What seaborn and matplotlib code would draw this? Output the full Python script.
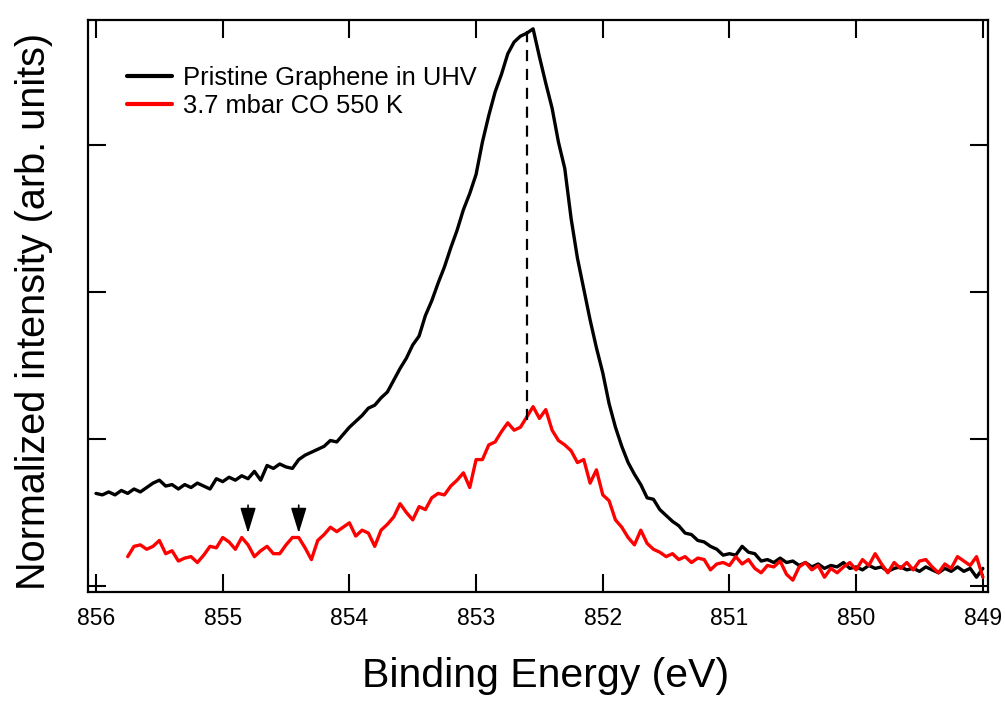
import numpy as np
import pandas as pd
import matplotlib
matplotlib.use("Agg")
import matplotlib.pyplot as plt
import seaborn as sns

# ---- data ----
black_start, black_stop = 856.00, 849.00   # binding-energy grid, 0.05 eV step
black_y = [
    0.63, 0.62, 0.64, 0.62, 0.65, 0.63, 0.66, 0.64, 0.67, 0.70,
    0.72, 0.68, 0.69, 0.66, 0.69, 0.67, 0.70, 0.68, 0.66, 0.73,
    0.71, 0.74, 0.72, 0.75, 0.73, 0.78, 0.72, 0.82, 0.80, 0.83,
    0.81, 0.80, 0.86, 0.89, 0.91, 0.93, 0.95, 0.99, 0.98, 1.03,
    1.08, 1.12, 1.16, 1.21, 1.23, 1.28, 1.32, 1.40, 1.48, 1.55,
    1.64, 1.70, 1.84, 1.94, 2.06, 2.17, 2.30, 2.42, 2.56, 2.67,
    2.80, 3.02, 3.20, 3.36, 3.48, 3.62, 3.70, 3.74, 3.76, 3.79,
    3.60, 3.42, 3.25, 3.02, 2.84, 2.50, 2.23, 2.02, 1.81, 1.62,
    1.45, 1.24, 1.08, 0.95, 0.84, 0.76, 0.69, 0.60, 0.59, 0.52,
    0.48, 0.44, 0.41, 0.36, 0.35, 0.31, 0.30, 0.27, 0.25, 0.21,
    0.22, 0.21, 0.27, 0.23, 0.22, 0.17, 0.18, 0.16, 0.19, 0.16,
    0.17, 0.14, 0.16, 0.13, 0.15, 0.12, 0.14, 0.13, 0.16, 0.12,
    0.13, 0.11, 0.14, 0.12, 0.13, 0.10, 0.12, 0.13, 0.11, 0.12,
    0.10, 0.13, 0.11, 0.09, 0.12, 0.10, 0.13, 0.10, 0.12, 0.06,
    0.12,
]
red_start, red_stop = 855.75, 849.00
red_y = [
    0.20, 0.27, 0.28, 0.25, 0.27, 0.31, 0.22, 0.24, 0.17, 0.19,
    0.20, 0.16, 0.21, 0.27, 0.26, 0.33, 0.30, 0.25, 0.33, 0.28,
    0.20, 0.24, 0.27, 0.22, 0.22, 0.28, 0.33, 0.33, 0.26, 0.18,
    0.31, 0.35, 0.40, 0.37, 0.40, 0.43, 0.34, 0.38, 0.36, 0.27,
    0.38, 0.42, 0.47, 0.56, 0.50, 0.45, 0.54, 0.52, 0.60, 0.63,
    0.62, 0.68, 0.72, 0.77, 0.67, 0.86, 0.86, 0.96, 0.98, 1.05,
    1.11, 1.06, 1.08, 1.15, 1.22, 1.14, 1.20, 1.06, 0.99, 0.96,
    0.92, 0.84, 0.86, 0.70, 0.79, 0.62, 0.58, 0.45, 0.40, 0.33,
    0.28, 0.38, 0.29, 0.25, 0.23, 0.20, 0.22, 0.18, 0.20, 0.16,
    0.19, 0.18, 0.11, 0.15, 0.16, 0.14, 0.20, 0.15, 0.18, 0.12,
    0.09, 0.14, 0.13, 0.17, 0.08, 0.04, 0.13, 0.16, 0.11, 0.14,
    0.06, 0.12, 0.09, 0.13, 0.16, 0.11, 0.18, 0.14, 0.22, 0.15,
    0.09, 0.16, 0.12, 0.16, 0.11, 0.17, 0.18, 0.13, 0.09, 0.15,
    0.12, 0.20, 0.17, 0.14, 0.20, 0.06,
]
series_names = ["Pristine Graphene in UHV", "3.7 mbar CO 550 K"]
series_colors = ["#000000", "#ff0000"]
x_ticks = [856, 855, 854, 853, 852, 851, 850, 849]
y_ticks = [0, 1, 2, 3]
peak_energy = 852.6
peak_top, peak_bottom = 3.79, 1.13
arrow_energies = [854.8, 854.4]
arrow_tip, arrow_tail = 0.36, 0.55

black_x = np.linspace(black_start, black_stop, len(black_y))
red_x = np.linspace(red_start, red_stop, len(red_y))
df = pd.concat([
    pd.DataFrame({"E": black_x, "I": black_y, "s": series_names[0]}),
    pd.DataFrame({"E": red_x, "I": red_y, "s": series_names[1]}),
], ignore_index=True)

sns.set_theme(style="ticks")
plt.rcParams["font.family"] = ["Liberation Sans", "DejaVu Sans"]
plt.rcParams["text.color"] = "black"
plt.rcParams["axes.labelcolor"] = "black"
plt.rcParams["xtick.color"] = "black"
plt.rcParams["ytick.color"] = "black"

fig = plt.figure(figsize=(10.05, 7.04), dpi=100)
ax = fig.add_axes([0.0876, 0.159, 0.8954, 0.8126])

sns.lineplot(data=df, x="E", y="I", hue="s", palette=series_colors,
             hue_order=series_names, linewidth=2.4, ax=ax, sort=False,
             estimator=None)

ax.vlines(peak_energy, peak_bottom, peak_top, colors="black",
          linestyles=(0, (5, 3.5)), linewidth=1.6)

for e in arrow_energies:
    ax.annotate("", xy=(e, arrow_tip), xytext=(e, arrow_tail),
                arrowprops=dict(arrowstyle="-|>,head_length=1.3,head_width=0.4",
                                color="black", lw=1.2, shrinkA=0, shrinkB=0))

ax.set_xlim(856.063, 848.96)
ax.set_ylim(-0.041, 3.85)
ax.set_xticks(x_ticks)
ax.set_xticklabels([str(t) for t in x_ticks])
ax.set_yticks(y_ticks)
ax.set_yticklabels([])

ax.tick_params(axis="both", which="both", direction="in", length=13,
               width=1.5, colors="black", top=True, right=True,
               labelsize=16.5, pad=11)
for sp in ax.spines.values():
    sp.set_visible(True)
    sp.set_linewidth(1.6)
    sp.set_color("black")

ax.set_xlabel("Binding Energy (eV)", fontsize=29.5, labelpad=19, x=0.508)
ax.set_ylabel("Normalized intensity (arb. units)", fontsize=28.5, labelpad=14, y=0.49)

leg = ax.legend(loc="upper left", bbox_to_anchor=(0.032, 0.938), frameon=False,
                fontsize=18.4, handlelength=1.75, handletextpad=0.45,
                labelspacing=0.15, borderaxespad=0)
for line in leg.get_lines():
    line.set_linewidth(3)

fig.savefig("out.png", dpi=100)
